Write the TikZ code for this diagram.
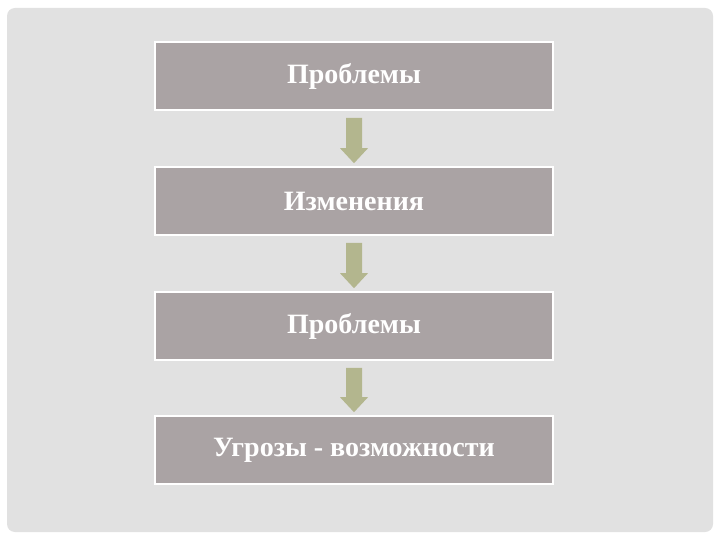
\documentclass[tikz,border=0pt]{standalone}
\usepackage{fontspec}
\setmainfont{Liberation Serif}
\usetikzlibrary{calc}
\definecolor{bggray}{HTML}{E1E1E1}
\definecolor{boxgray}{HTML}{AAA3A4}
\definecolor{arrowolive}{HTML}{B3B68E}
\newcommand{\lowered}[1]{\raisebox{-3pt}{#1}}
\begin{document}
\begin{tikzpicture}[x=1pt,y=-1pt,
  stagebox/.style={draw=white, line width=1.6pt, fill=boxgray, minimum width=398pt, minimum height=68pt, inner sep=0pt, text=white, font=\bfseries\fontsize{28}{32}\selectfont},
  flowarrow/.style={fill=arrowolive, draw=none}]
\useasboundingbox (0,0) rectangle (720,540);
\fill[white] (0,0) rectangle (720,540);
\fill[bggray, rounded corners=8pt] (7,8) rectangle (713,532);
\node[stagebox] (b1) at (354,76) {\lowered{Проблемы}};
\node[stagebox] (b2) at (354,201) {\lowered{Изменения}};
\node[stagebox] (b3) at (354,326) {\lowered{Проблемы}};
\node[stagebox] (b4) at (354,450) {\lowered{Угрозы - возможности}};
\foreach \a/\b in {b1/b2, b2/b3, b3/b4}{
  \path (\a.south) ++(0,7) coordinate (s) (\b.north) ++(0,-3) coordinate (t);
  \fill[flowarrow] ($(s)+(-8,0)$) -- ($(s)+(8,0)$) -- ($(t)+(8,-15)$) -- ($(t)+(14,-15)$) -- (t) -- ($(t)+(-14,-15)$) -- ($(t)+(-8,-15)$) -- cycle;
}
\end{tikzpicture}
\end{document}
